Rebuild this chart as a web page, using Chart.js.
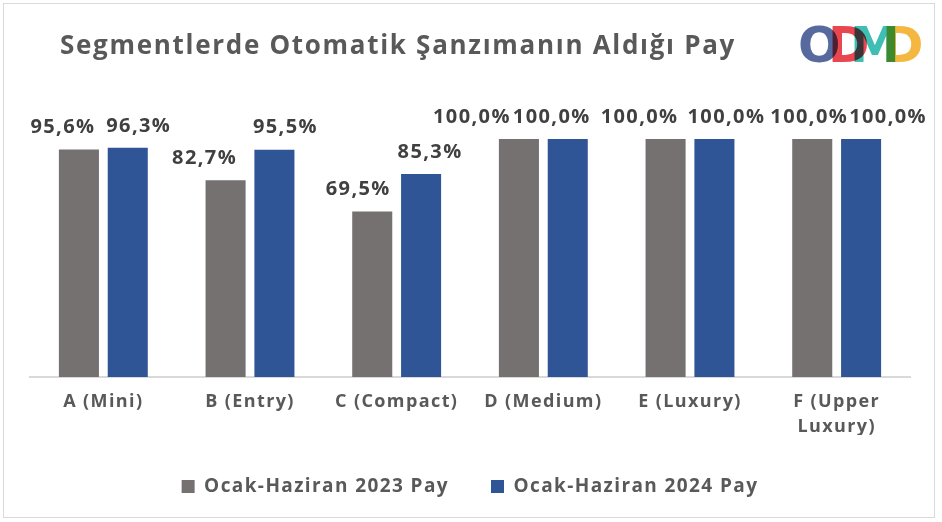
<!DOCTYPE html>
<html lang="tr">
<head>
<meta charset="UTF-8">
<title>Segmentlerde Otomatik Şanzımanın Aldığı Pay</title>
<script src="https://cdn.jsdelivr.net/npm/chart.js"></script>
<style>
    body { margin: 0; background: #fff; font-family: "Open Sans", sans-serif; }
    .wrap { position: relative; width: 942px; height: 522px; overflow: hidden; }
    .frame { position: absolute; left: 3px; top: 3px; width: 930px; height: 513px; border: 1.5px solid #d9d9d9; pointer-events: none; }
    #title { position: absolute; left: 60px; top: 27px; font-size: 26px; font-weight: 700; letter-spacing: 1.7px; color: #595959; white-space: nowrap; line-height: 34px; }
    .logo { position: absolute; left: 798px; top: 20px; width: 125px; height: 50px; }
    .logo span { position: absolute; top: 0; font-family: "DejaVu Sans", sans-serif; font-weight: 700; font-size: 50px; line-height: 50px; mix-blend-mode: multiply; }
    canvas { position: absolute; left: 0; top: 0; }
</style>
</head>
<body>
<div class="wrap">
    <canvas id="payChart" width="942" height="522"></canvas>
    <div id="title">Segmentlerde Otomatik Şanzımanın Aldığı Pay</div>
    <div class="logo">
        <span style="left:0;color:#566a9e">O</span>
        <span style="left:30px;color:#e8474f">D</span>
        <span style="left:52px;color:#3fbfb3">M</span>
        <span style="left:84px;color:#f4b73f">D</span>
    </div>
    <div class="frame"></div>
</div>

<script>
    const segments = ["A (Mini)", "B (Entry)", "C (Compact)", "D (Medium)", "E (Luxury)", ["F (Upper", "Luxury)"]];
    const pay2023 = [95.6, 82.7, 69.5, 100.0, 100.0, 100.0];
    const pay2024 = [96.3, 95.5, 85.3, 100.0, 100.0, 100.0];
    const seriesNames = ["Ocak-Haziran 2023 Pay", "Ocak-Haziran 2024 Pay"];

    // label nudges (px) to mimic the hand-placed Excel labels
    const labelShift = [
        [-16, -21, -14, -47, -26, -3],
        [11, 11, 9, -16, 12, 27]
    ];

    // wider letter spacing, closer to the Century Gothic look of the original
    const spacing = {
        id: "spacing",
        beforeUpdate(chart) { chart.ctx.letterSpacing = "1.4px"; },
        beforeDraw(chart) { chart.ctx.letterSpacing = "1.4px"; }
    };

    const valueLabels = {
        id: "valueLabels",
        afterDatasetsDraw(chart) {
            const ctx = chart.ctx;
            ctx.save();
            ctx.font = "bold 20px 'Open Sans'";
            ctx.fillStyle = "#404040";
            ctx.textAlign = "center";
            ctx.textBaseline = "middle";
            chart.data.datasets.forEach((ds, di) => {
                chart.getDatasetMeta(di).data.forEach((bar, i) => {
                    const txt = ds.data[i].toFixed(1).replace(".", ",") + "%";
                    ctx.fillText(txt, bar.x + labelShift[di][i], bar.y - 22);
                });
            });
            ctx.restore();
        }
    };

    new Chart(document.getElementById("payChart"), {
        type: "bar",
        data: {
            labels: segments,
            datasets: [
                { label: seriesNames[0], data: pay2023, backgroundColor: "#767171" },
                { label: seriesNames[1], data: pay2024, backgroundColor: "#2f5597" }
            ]
        },
        options: {
            responsive: false,
            animation: false,
            datasets: { bar: { categoryPercentage: 0.666, barPercentage: 0.82 } },
            layout: { padding: { top: 139, left: 30, right: 32, bottom: 16 } },
            plugins: {
                legend: {
                    position: "bottom",
                    labels: {
                        boxWidth: 13, boxHeight: 13, padding: 42,
                        color: "#595959",
                        font: { family: "Open Sans", size: 19, weight: "bold" }
                    }
                },
                tooltip: { enabled: false }
            },
            scales: {
                y: { display: false, min: 0, max: 100 },
                x: {
                    grid: { display: false },
                    border: { color: "#d9d9d9", width: 2 },
                    ticks: {
                        color: "#595959",
                        padding: 4,
                        maxRotation: 0,
                        autoSkip: false,
                        font: { family: "Open Sans", size: 18, weight: "bold", lineHeight: 1.4 }
                    },
                    afterFit(scale) { scale.height = 58; }
                }
            }
        },
        plugins: [spacing, valueLabels]
    });
</script>
</body>
</html>
